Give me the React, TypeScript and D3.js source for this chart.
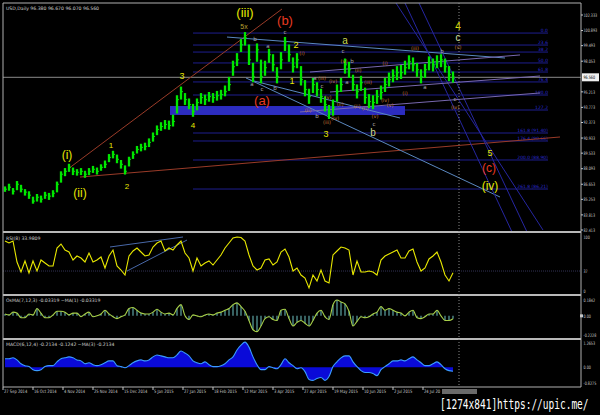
import React from "react";
import * as d3 from "d3";

// ---------- DATA ----------
const closes = [86.19,86.38,86.01,86.65,86.19,85.92,85.64,85.09,85.45,85.27,85.64,85.55,85.82,86.65,87.58,87.85,88.22,87.85,87.76,87.85,87.58,87.85,88.04,87.85,88.22,88.5,89.14,89.42,88.96,88.5,87.85,88.96,89.42,89.88,90.07,90.16,90.53,91.08,91.73,92.0,92.19,92.1,92.47,94.49,95.23,94.49,94.03,93.39,94.22,94.68,94.49,94.77,94.68,94.86,94.96,95.23,95.88,97.54,98.18,99.57,100.21,98.18,96.62,99.11,96.62,97.45,98.65,97.72,96.62,98.18,99.85,98.65,97.54,98.18,96.34,95.42,94.77,95.88,95.42,94.77,94.03,93.3,93.76,95.23,95.88,97.72,97.26,95.88,95.23,96.06,94.68,94.31,94.22,94.77,95.14,95.88,96.34,96.71,96.99,96.99,97.45,98.0,97.72,97.26,96.62,97.26,97.91,97.72,98.0,98.18,97.54,96.81,96.56];
const highs = [86.45,86.7,86.3,86.95,86.6,86.2,86.0,85.5,85.75,85.6,85.95,85.85,86.1,86.9,87.85,88.15,88.55,88.2,88.05,88.15,87.9,88.15,88.35,88.2,88.5,88.85,89.45,89.75,89.4,88.9,88.4,89.2,89.7,90.2,90.4,90.5,90.9,91.45,92.1,92.4,92.6,92.55,93.1,94.9,95.7,95.1,94.6,94.1,94.6,95.1,94.95,95.2,95.1,95.3,95.4,95.8,96.6,98.1,98.8,100.1,100.75,99.6,97.9,99.7,98.2,98.1,99.2,98.7,97.5,98.9,100.3,99.6,98.4,98.8,97.6,96.3,95.5,96.5,96.1,95.5,94.8,94.0,94.5,95.9,96.5,98.3,98.0,96.8,95.9,96.7,95.6,95.0,94.9,95.4,95.8,96.5,97.0,97.3,97.6,97.7,98.1,98.6,98.4,97.9,97.3,97.8,98.5,98.3,98.6,98.7,98.3,97.6,97.1];
const lows = [85.95,86.05,85.7,86.1,85.9,85.6,85.3,84.85,85.05,84.95,85.3,85.2,85.45,85.9,86.8,87.4,87.8,87.5,87.45,87.5,87.25,87.5,87.7,87.55,87.9,88.15,88.7,89.05,88.6,88.1,87.55,88.3,89.0,89.5,89.7,89.8,90.1,90.6,91.2,91.6,91.75,91.7,92.0,93.2,94.5,94.0,93.6,92.9,93.5,94.1,94.0,94.3,94.2,94.4,94.5,94.8,95.3,96.7,97.6,98.9,99.5,97.7,96.1,98.0,96.0,96.7,97.9,97.1,96.0,97.3,99.0,98.0,97.0,97.4,95.8,94.8,94.1,95.1,94.8,94.2,93.4,92.7,93.0,94.3,95.2,96.9,96.5,95.3,94.6,95.3,94.1,93.7,93.6,94.1,94.5,95.2,95.7,96.1,96.3,96.4,96.8,97.3,97.1,96.6,96.0,96.5,97.2,97.1,97.4,97.5,97.0,96.2,96.07];
const rsi = [92.6,88.9,92.6,53.7,35.2,55.6,33.3,55.6,37.0,57.4,51.9,46.3,46.3,79.6,87.0,75.9,72.2,57.4,64.8,61.1,53.7,70.4,53.7,57.4,63.0,42.6,64.8,75.9,46.3,38.9,29.6,64.8,74.1,79.6,72.2,64.8,66.7,81.5,88.9,92.6,74.1,79.6,75.9,85.2,92.6,70.4,61.1,37.0,61.1,46.3,51.9,55.6,48.1,57.4,66.7,79.6,88.9,98.1,100,99.0,92.6,66.7,46.3,38.9,42.6,57.4,59.3,48.1,53.7,72.2,77.8,63.0,37.0,42.6,29.6,24.1,5.6,29.6,18.5,38.9,18.5,14.8,66.7,74.1,81.5,79.6,75.9,29.6,55.6,35.2,35.2,37.0,35.2,29.6,57.4,64.8,68.5,72.2,75.9,61.1,61.1,74.1,77.8,53.7,37.0,42.6,59.3,64.8,72.2,53.7,29.6,18.5,33.98];
const osma = [0.022,0.011,0.043,0.032,-0.022,-0.022,0.022,0.011,0.086,0.032,-0.022,-0.022,0.011,0.054,0.054,0.043,0.011,0.032,0.032,-0.011,0.022,0.043,-0.011,0,0.022,0.065,0.022,-0.011,-0.032,-0.011,0.011,0.086,0.097,0.065,0.032,0.022,0.022,0.043,0.076,0.043,0.022,0.032,0.011,0.086,0.13,0,-0.043,0.011,0,-0.011,0.011,0.022,0.011,0.032,0.043,0.065,0.086,0.13,0.151,0.108,0.054,-0.054,-0.162,-0.184,-0.119,-0.032,-0.011,-0.043,-0.054,0.065,0.076,-0.032,-0.119,-0.076,-0.054,-0.086,-0.119,-0.054,0.032,0.065,-0.011,-0.043,0.13,0.184,0.162,0.14,0.054,-0.119,-0.065,-0.011,-0.022,-0.011,0.022,0.043,0.108,0.065,0.086,0.065,0.043,0.032,0,0.043,0.065,-0.022,-0.032,-0.011,0.022,0.022,0.065,0,-0.054,-0.054,-0.033];
const macd = [0.44,0.44,0.49,0.38,0.18,0.08,0.03,-0.13,-0.18,-0.13,0.03,0.08,0.08,0.28,0.44,0.49,0.54,0.49,0.38,0.33,0.18,0.23,0.13,0.08,0.13,0.23,0.33,0.33,0.08,0.03,-0.03,0.08,0.23,0.33,0.38,0.33,0.38,0.54,0.64,0.59,0.54,0.49,0.49,0.64,0.85,0.74,0.59,0.33,0.23,0.18,0.28,0.13,0.03,0.03,0.08,0.18,0.38,0.54,0.9,1.15,1.31,1.05,0.54,0.13,-0.13,-0.13,0.03,-0.03,-0.08,0.13,0.44,0.23,0.08,-0.08,-0.03,-0.23,-0.64,-0.69,-0.59,-0.54,-0.69,-0.49,0.03,0.28,0.49,0.59,0.59,0.28,0.03,-0.18,-0.28,-0.28,-0.33,-0.44,-0.13,0.03,0.18,0.33,0.33,0.38,0.33,0.44,0.54,0.38,0.23,0.08,0.08,0.18,0.28,0.13,-0.08,-0.18,-0.21];
const dateLabels = ["27 Sep 2014","16 Oct 2014","4 Nov 2014","25 Nov 2014","15 Dec 2014","5 Jan 2015","27 Jan 2015","18 Feb 2015","12 Mar 2015","3 Apr 2015","27 Apr 2015","19 May 2015","10 Jun 2015","2 Jul 2015","24 Jul 20"];
const priceTicks = [102.333,100.893,99.493,98.053,95.213,93.773,92.373,90.933,89.533,88.093,86.653,85.253,83.813,82.413];
const lastPrice = 96.56;
const fiboLevels = [100.66,99.55,98.9,97.89,97.05,96.13,94.92,93.53,91.4,90.66,88.9,86.21];
const fiboLabels = ["0.0","23.6","38.2","50.0","61.8","76.4","100.0","127.2","161.8 (91.40)","176.4 (90.66)","200.0 (88.90)","261.8 (86.21)"];
// trendlines: [i1, p1, i2, p2, color]
const trendLines: [number, number, number, number, string][] = [
  [15.75, 88.07, 69.25, 102.89, "#9a3b28"],
  [18.75, 87.32, 138.75, 91.03, "#9a3b28"],
  [55.5, 100.29, 125, 98.35, "#5a88c0"],
  [60.25, 96.5, 123.75, 85.47, "#5a88c0"],
  [61.25, 96.31, 98.75, 92.79, "#5a88c0"],
  [100, 103.44, 126.75, 82.23, "#2626a0"],
  [103.5, 103.44, 130.5, 82.23, "#2626a0"],
  [97.75, 103.44, 134.5, 82.41, "#2626a0"],
  [76.25, 97.05, 128.75, 98.63, "#7868b0"],
  [81.25, 95.2, 133.75, 96.68, "#7868b0"],
  [73.75, 93.35, 133.75, 95.11, "#7868b0"],
];
const rsiLines: [number, number, number, number][] = [
  [26.25, 81.5, 44.5, 100],
  [30.5, 37, 45.5, 94.4],
];
const zone = { i1: 41.25, i2: 100, p1: 93.9, p2: 93.07 };
// big wave labels [i, price, text, color, size]
const bigLabels: [number, number, string, string, number][] = [
  [60, 102.15, "(iii)", "#e6e600", 13],
  [59.75, 101.04, "5x", "#b8a030", 7],
  [70, 101.41, "(b)", "#e83a20", 13],
  [64.25, 93.99, "(a)", "#e83a20", 13],
  [44.25, 96.4, "3", "#e6e600", 9],
  [47, 91.86, "4", "#e6e600", 8],
  [15.5, 88.99, "(i)", "#e6e600", 12],
  [18.75, 85.47, "(ii)", "#e6e600", 12],
  [26.5, 90.01, "1", "#e6e600", 8],
  [30.5, 86.21, "2", "#e6e600", 8],
  [72.75, 99.28, "2", "#e6e600", 9],
  [71.75, 95.94, "1", "#e6e600", 9],
  [80.25, 91.03, "3", "#e6e600", 9],
  [85, 99.65, "a", "#c8d850", 10],
  [92, 91.12, "b", "#d0d890", 10],
  [113.25, 100.94, "4", "#e6e600", 10],
  [113.25, 99.92, "c", "#d0e0a0", 10],
  [121.25, 89.27, "5", "#e6e600", 9],
  [121, 87.79, "(c)", "#e83a20", 12],
  [121.25, 86.12, "(iv)", "#e6e600", 12],
];
const smallOrange: [number, number, string][] = [
  [74.25,98.63,"(i)"],[79.25,96.31,"(iii)"],[82,96.03,"(iv)"],[90.75,95.94,"(iii)"],[83.75,93.9,"(ii)"],
  [75.75,93.35,"(ii)"],[88,93.72,"(ii)"],[84.75,97.88,"(v)"],[88.25,97.05,"(ii)"],[80.75,94.55,"(v)"],
  [95,97.7,"(i)"],[95,94.27,"(iv)"],[82.5,92.6,"(iv)"],[80.5,92.23,"(iii)"],[90,93.53,"(ii)"],
  [92.5,92.79,"(v)"],[102.5,99.09,"(iii)"],[100,94.92,"(i)"],[113.25,99.18,"(v)"],[112.5,93.62,"(iv)"],[96.25,93.81,"(v)"],
];
const smallGray: [number, number, string][] = [
  [62.5,99.92,"b"],[65.75,99.28,"a"],[70,100.57,"c"],[61.75,95.75,"a"],[64.25,95.29,"c"],[67.5,95.38,"b"],
  [77.5,96.31,"a"],[79.25,95.57,"c"],[85.5,95.94,"a"],[84.5,98.81,"c"],[86.75,97.89,"b"],[78,92.79,"b"],
  [92.25,92.05,"c"],[105,95.48,"a"],[109.25,98.81,"b"],[112.5,94.36,"c"],
];

// ---------- LAYOUT ----------
const W = 600, H = 415;
const L = 3, R = 581;
const N = closes.length;
const x = d3.scaleLinear().domain([0, N - 1]).range([5, 453]);
const yP = d3.scaleLinear().domain([82.413, 102.333]).range([230, 15]);
const yR = d3.scaleLinear().domain([0, 100]).range([291, 237]);
const yO = d3.scaleLinear().domain([-0.2228, 0.1842]).range([335, 300]);
const yM = d3.scaleLinear().domain([-0.8275, 1.2653]).range([383, 343]);
const futureX = 459;
const small = "DejaVu Sans, sans-serif";
const wave = "Liberation Sans, Arial, sans-serif";
const axisCol = "#c8c8c8";
const fs = 4.6;

function AxisText({ y, t, fill = axisCol }: { y: number; t: string; fill?: string }) {
  return (
    <text transform={`translate(${R + 2.5},${y + 1.8}) scale(0.72,1)`} fontFamily={small} fontSize={fs} fill={fill}>{t}</text>
  );
}

export default function App() {
  const idx = d3.range(N);
  const rsiLine = d3.line<number>().x((i) => x(i)).y((i) => yR(rsi[i]));
  const osmaLine = d3.line<number>().x((i) => x(i)).y((i) => yO(osma[i])).curve(d3.curveMonotoneX);
  const macdArea = d3.area<number>().x((i) => x(i)).y0(yM(0)).y1((i) => yM(macd[i])).curve(d3.curveMonotoneX);
  const macdLine = d3.line<number>().x((i) => x(i)).y((i) => yM(macd[i])).curve(d3.curveMonotoneX);

  return (
    <svg width={W} height={H} style={{ display: "block", position: "absolute", left: 0, top: 0, background: "#000" }}>
      <rect x={0} y={0} width={W} height={H} fill="#000" />
      <defs>
        <clipPath id="mainClip"><rect x={L} y={3} width={R - L} height={228} /></clipPath>
      </defs>

      {/* main panel */}
      <g clipPath="url(#mainClip)">
        {fiboLevels.map((p, k) => (
          <g key={"f" + k}>
            <line x1={193} x2={548} y1={yP(p)} y2={yP(p)} stroke="#1e1e8e" strokeWidth={1} />
            <text x={548} y={yP(p) - 1} textAnchor="end" fontFamily={small} fontSize={4.5} fill="#2a2ad0">{fiboLabels[k]}</text>
          </g>
        ))}
        <rect x={x(zone.i1)} y={yP(zone.p1)} width={x(zone.i2) - x(zone.i1)} height={yP(zone.p2) - yP(zone.p1)} fill="#2c2cc0" />
        <line x1={L} x2={R} y1={yP(lastPrice)} y2={yP(lastPrice)} stroke="#8a8a8a" strokeWidth={1} />
        {trendLines.map((t, k) => (
          <line key={"t" + k} x1={x(t[0])} y1={yP(t[1])} x2={x(t[2])} y2={yP(t[3])} stroke={t[4]} strokeWidth={1} />
        ))}
        {idx.map((i) => (
          <g key={"b" + i}>
            <line x1={x(i)} x2={x(i)} y1={yP(highs[i])} y2={yP(lows[i])} stroke="#00e600" strokeWidth={2.3} />
            <line x1={x(i)} x2={x(i) + 2} y1={yP(closes[i])} y2={yP(closes[i])} stroke="#00e600" strokeWidth={1} />
          </g>
        ))}
        {smallOrange.map((s, k) => (
          <text key={"o" + k} x={x(s[0])} y={yP(s[1])} textAnchor="middle" fontFamily={small} fontSize={5} fill="#c87838">{s[2]}</text>
        ))}
        {smallGray.map((s, k) => (
          <text key={"g" + k} x={x(s[0])} y={yP(s[1])} textAnchor="middle" fontFamily={small} fontSize={5.5} fill="#a8a8a8">{s[2]}</text>
        ))}
        {bigLabels.map((b, k) => (
          <text key={"w" + k} x={x(b[0])} y={yP(b[1])} textAnchor="middle" fontFamily={wave} fontSize={b[4]} fill={b[3]}>{b[2]}</text>
        ))}
      </g>
      <text x={6} y={10} fontFamily={small} fontSize={fs} fill="#d0d0d0">USD,Daily  96.380 96.670 96.070 96.560</text>

      {/* RSI */}
      <line x1={L} x2={R} y1={yR(37)} y2={yR(37)} stroke="#333355" strokeWidth={1} strokeDasharray="1,1" />
      {rsiLines.map((t, k) => (
        <line key={"r" + k} x1={x(t[0])} y1={yR(t[1])} x2={x(t[2])} y2={yR(t[3])} stroke="#4868a8" strokeWidth={1} />
      ))}
      <path d={rsiLine(idx) || ""} fill="none" stroke="#e8e800" strokeWidth={1.1} />
      <text x={6} y={240} fontFamily={small} fontSize={fs} fill="#d0d0d0">RSI(8) 33.9809</text>

      {/* OsMA */}
      {idx.map((i) => (
        <line key={"h" + i} x1={x(i)} x2={x(i)} y1={yO(0)} y2={yO(osma[i])} stroke="#4f8c8c" strokeWidth={1.4} />
      ))}
      <path d={osmaLine(idx) || ""} fill="none" stroke="#a8d048" strokeWidth={1.1} />
      <text x={6} y={302} fontFamily={small} fontSize={fs} fill="#d0d0d0">OsMA(7,12,3) -0.03319  ~MA(1) -0.03319</text>

      {/* MACD */}
      <path d={macdArea(idx) || ""} fill="#0a0ad8" />
      <path d={macdLine(idx) || ""} fill="none" stroke="#3a9cff" strokeWidth={1.1} />
      <text x={6} y={346} fontFamily={small} fontSize={fs} fill="#d0d0d0">MACD(6,12,4) -0.2134 -0.1242  ~MA(3) -0.2134</text>

      {/* frames */}
      <line x1={L} x2={R} y1={3} y2={3} stroke="#b0b0b0" strokeWidth={1.2} />
      <line x1={L} x2={R} y1={232} y2={232} stroke="#b8b8b8" strokeWidth={2} />
      <line x1={L} x2={R} y1={295} y2={295} stroke="#b8b8b8" strokeWidth={2} />
      <line x1={L} x2={R} y1={339} y2={339} stroke="#b8b8b8" strokeWidth={2} />
      <line x1={L} x2={R} y1={387} y2={387} stroke="#b0b0b0" strokeWidth={1} />
      <line x1={L} x2={L} y1={3} y2={387} stroke="#b0b0b0" strokeWidth={1} />
      <line x1={R} x2={R} y1={3} y2={387} stroke="#b0b0b0" strokeWidth={1} />
      <line x1={futureX} x2={futureX} y1={3} y2={387} stroke="#8a8a8a" strokeWidth={1} strokeDasharray="1,2" />

      {/* right axis */}
      {priceTicks.map((p, k) => (
        <g key={"pt" + k}>
          <line x1={R} x2={R + 2} y1={yP(p)} y2={yP(p)} stroke={axisCol} />
          <AxisText y={yP(p)} t={p.toFixed(3)} />
        </g>
      ))}
      <rect x={R + 1} y={yP(lastPrice) - 4} width={17} height={8} fill="#f0f0f0" />
      <AxisText y={yP(lastPrice)} t={lastPrice.toFixed(3)} fill="#000" />
      {([[100, "100"], [37, "37"], [0, "0"]] as [number, string][]).map(([v, t], k) => (
        <AxisText key={"ra" + k} y={yR(v)} t={t} />
      ))}
      {([[0.1842, "0.1842"], [0, "0.00"], [-0.2228, "-0.2228"]] as [number, string][]).map(([v, t], k) => (
        <AxisText key={"oa" + k} y={yO(v)} t={t} />
      ))}
      <rect x={R - 1} y={yO(0) - 1.5} width={3} height={3} fill={axisCol} />
      {([[1.2653, "1.2653"], [0, "0.00"], [-0.8275, "-0.8275"]] as [number, string][]).map(([v, t], k) => (
        <AxisText key={"ma" + k} y={yM(v)} t={t} />
      ))}

      {/* date axis */}
      {dateLabels.map((d, k) => {
        const xx = x(-0.5 + 7.5 * k);
        return (
          <g key={"d" + k}>
            <line x1={xx} x2={xx} y1={387} y2={390} stroke={axisCol} />
            <text transform={`translate(${xx + 1},393) scale(0.8,1)`} fontFamily={small} fontSize={fs} fill={axisCol}>{d}</text>
          </g>
        );
      })}
      <rect x={442} y={389} width={35} height={5} fill="#6a6a6a" />

      {/* watermark */}
      <text transform="translate(440,409) scale(1,1.55)" fontFamily="DejaVu Sans Mono, monospace" fontSize={9.5} fill="#ffffff">[1274x841]https://upic.me/</text>
    </svg>
  );
}
